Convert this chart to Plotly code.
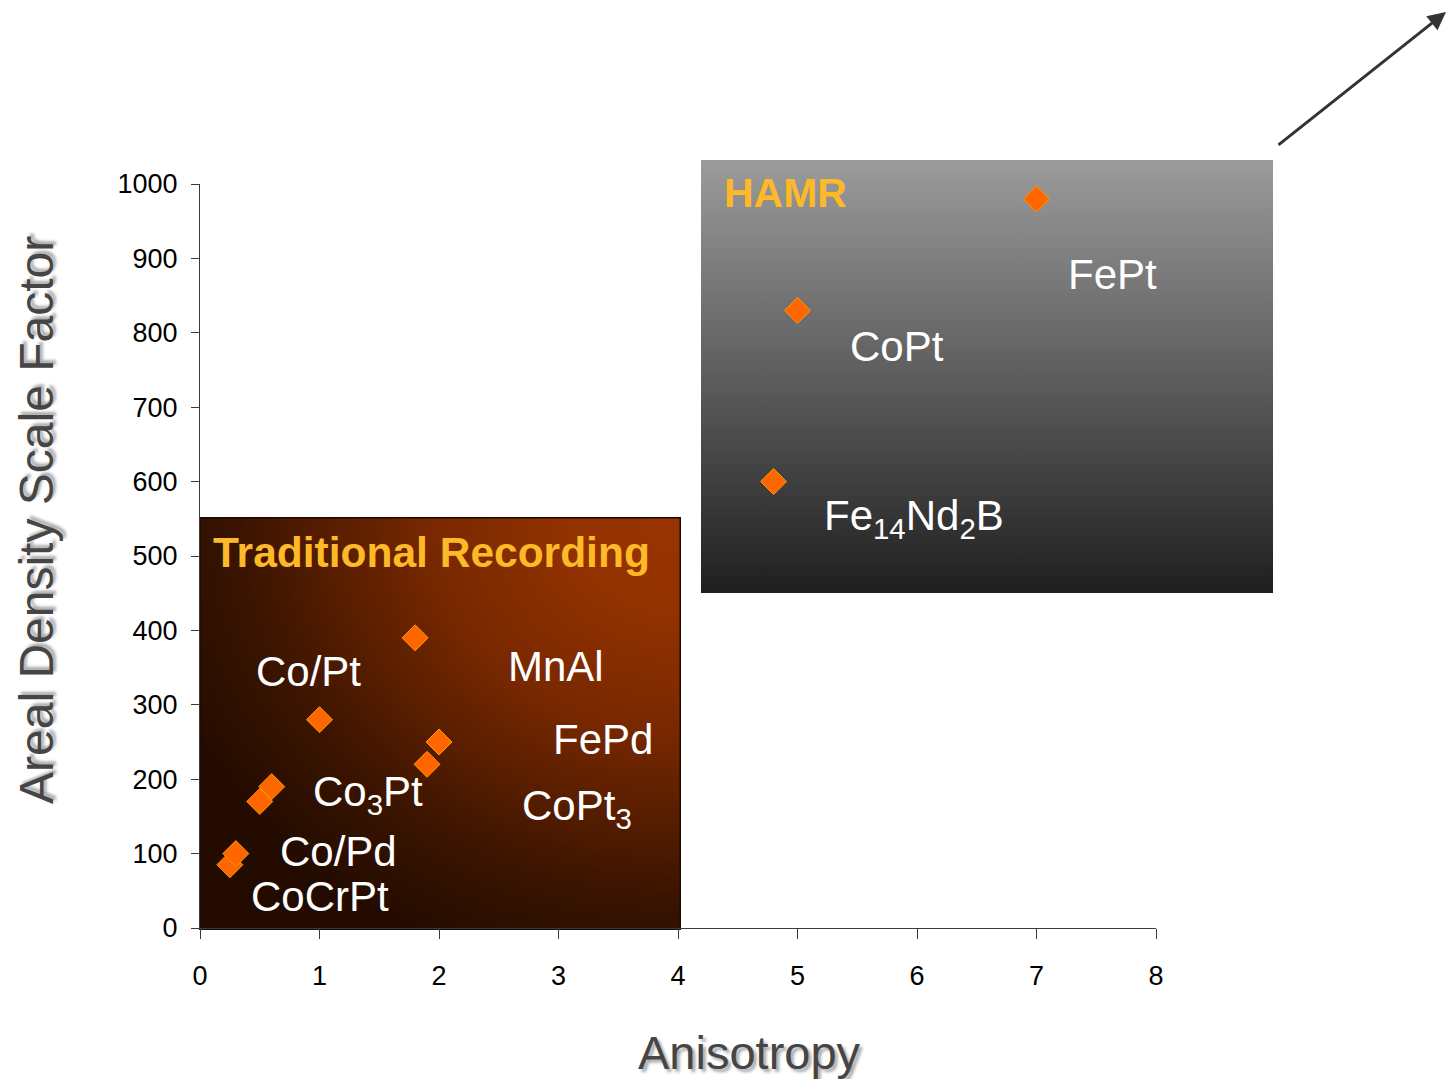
import base64
import plotly.graph_objects as go

# ---------------- data ----------------
materials = ["CoCrPt", "Co/Pd", "Co3Pt", "CoPt3", "Co/Pt", "FePd", "MnAl", "FePt-a",
             "Fe14Nd2B", "CoPt", "FePt"]
anisotropy = [0.25, 0.30, 0.50, 0.60, 1.00, 1.90, 2.00, 1.80, 4.80, 5.00, 7.00]
scale_factor = [85, 100, 170, 190, 280, 220, 250, 390, 600, 830, 980]

x_ticks = [0, 1, 2, 3, 4, 5, 6, 7, 8]
y_ticks = [0, 100, 200, 300, 400, 500, 600, 700, 800, 900, 1000]

label_texts = ["Co/Pt", "MnAl", "FePd", "Co<sub>3</sub>Pt", "CoPt<sub>3</sub>",
               "Co/Pd", "CoCrPt", "CoPt", "FePt", "Fe<sub>14</sub>Nd<sub>2</sub>B"]
label_x = [0.455, 2.56, 2.935, 0.93, 2.675, 0.65, 0.41, 5.42, 7.25, 5.205]
label_y = [345, 352, 254, 180, 160, 103.5, 43, 781, 878, 550]

# ---------------- layout geometry ----------------
W, H = 1447, 1079
L, R, T, B = 200, 291, 184, 151
PW, PH = W - L - R, H - T - B


def px2paper(px, py):
    return (px - L) / PW, (H - B - py) / PH


def svg_uri(svg):
    return "data:image/svg+xml;base64," + base64.b64encode(svg.encode()).decode()


trad_w, trad_h = 482, 413
trad_svg = (
    f'<svg xmlns="http://www.w3.org/2000/svg" width="{trad_w}" height="{trad_h}" '
    f'viewBox="0 0 {trad_w} {trad_h}">'
    '<defs><radialGradient id="g" cx="1" cy="0" r="1.15" fx="1" fy="0">'
    '<stop offset="0" stop-color="#983400"/>'
    '<stop offset="0.2" stop-color="#923200"/>'
    '<stop offset="0.45" stop-color="#782800"/>'
    '<stop offset="0.8" stop-color="#3a1400"/>'
    '<stop offset="0.92" stop-color="#2c0f00"/>'
    '<stop offset="1" stop-color="#240b00"/>'
    '</radialGradient></defs>'
    f'<rect x="0" y="0" width="{trad_w}" height="{trad_h}" fill="url(#g)"/>'
    f'<rect x="0.75" y="0.75" width="{trad_w-1.5}" height="{trad_h-1.5}" fill="none" stroke="#1c0800" stroke-width="1.5"/>'
    '</svg>'
)

hamr_w, hamr_h = 572, 433
hamr_svg = (
    f'<svg xmlns="http://www.w3.org/2000/svg" width="{hamr_w}" height="{hamr_h}" '
    f'viewBox="0 0 {hamr_w} {hamr_h}">'
    '<defs><linearGradient id="h" x1="0" y1="0" x2="0" y2="1">'
    '<stop offset="0" stop-color="#9b9b9b"/>'
    '<stop offset="1" stop-color="#1f1f1f"/>'
    '</linearGradient></defs>'
    f'<rect x="0" y="0" width="{hamr_w}" height="{hamr_h}" fill="url(#h)"/>'
    '</svg>'
)

tx0, ty0 = px2paper(199, 517)
hx0, hy0 = px2paper(701, 160)

images = [
    dict(source=svg_uri(trad_svg), xref="paper", yref="paper", x=tx0, y=ty0,
         sizex=trad_w / PW, sizey=trad_h / PH, xanchor="left", yanchor="top",
         sizing="stretch", layer="below"),
    dict(source=svg_uri(hamr_svg), xref="paper", yref="paper", x=hx0, y=hy0,
         sizex=hamr_w / PW, sizey=hamr_h / PH, xanchor="left", yanchor="top",
         sizing="stretch", layer="below"),
]

FONT = "Arial, 'Liberation Sans', sans-serif"

fig = go.Figure()
fig.add_trace(go.Scatter(
    x=anisotropy, y=scale_factor, mode="markers", text=materials,
    hoverinfo="text",
    marker=dict(symbol="diamond", size=20, color="#ff6600",
                line=dict(color="#ff9900", width=1)),
    cliponaxis=False, showlegend=False,
))

annotations = []
for t, lx, ly in zip(label_texts, label_x, label_y):
    annotations.append(dict(text=t, x=lx, y=ly, xref="x", yref="y",
                            xanchor="left", yanchor="middle", showarrow=False,
                            font=dict(family=FONT, size=42, color="white")))

annotations.append(dict(text="<b>Traditional Recording</b>", x=0.09, y=505,
                        xref="x", yref="y", xanchor="left", yanchor="middle",
                        showarrow=False,
                        font=dict(family=FONT, size=42.5, color="#fdb927")))
annotations.append(dict(text="<b>HAMR</b>", x=4.367, y=988,
                        xref="x", yref="y", xanchor="left", yanchor="middle",
                        showarrow=False,
                        font=dict(family=FONT, size=41, color="#fdb927")))

# axis titles
ytx, yty = px2paper(36, 520)
xtx, xty = px2paper(749, 1052)
annotations.append(dict(text="Areal Density Scale Factor", x=ytx, y=yty,
                        xref="paper", yref="paper", textangle=-90,
                        xanchor="center", yanchor="middle", showarrow=False,
                        font=dict(family=FONT, size=48, color="#454545",
                                  shadow="3px 3px 3px #aaaaaa")))
annotations.append(dict(text="Anisotropy", x=xtx, y=xty,
                        xref="paper", yref="paper",
                        xanchor="center", yanchor="middle", showarrow=False,
                        font=dict(family=FONT, size=47, color="#454545",
                                  shadow="3px 3px 3px #aaaaaa")))

# arrow
ahx, ahy = px2paper(1447, 12)
annotations.append(dict(text="", x=ahx, y=ahy, xref="paper", yref="paper",
                        ax=1277 - 1447, ay=146 - 12, axref="pixel", ayref="pixel",
                        showarrow=True, arrowhead=2, arrowsize=1.2, arrowwidth=3,
                        arrowcolor="#333333", standoff=0, startstandoff=0))

fig.update_layout(
    width=W, height=H,
    margin=dict(l=L, r=R, t=T, b=B, pad=0),
    paper_bgcolor="white", plot_bgcolor="rgba(0,0,0,0)",
    images=images,
    annotations=annotations,
    xaxis=dict(range=[0, 8], tickvals=x_ticks, showgrid=False, zeroline=False,
               showline=True, linecolor="#3a3a3a", linewidth=1,
               ticks="outside", ticklen=10, tickcolor="#3a3a3a",
               tickfont=dict(family=FONT, size=27, color="black"),
               ticklabelstandoff=14, fixedrange=True),
    yaxis=dict(range=[0, 1000], tickvals=y_ticks, showgrid=False, zeroline=False,
               showline=True, linecolor="#3a3a3a", linewidth=1,
               ticks="outside", ticklen=8, tickcolor="#3a3a3a",
               tickfont=dict(family=FONT, size=27, color="black"),
               ticklabelstandoff=8, fixedrange=True),
    hovermode="closest",
)

fig.write_html(
    "out.html",
    config={"displayModeBar": False},
    post_script="document.body.style.margin='0';document.body.style.padding='0';"
                "document.body.style.overflow='hidden';",
)
